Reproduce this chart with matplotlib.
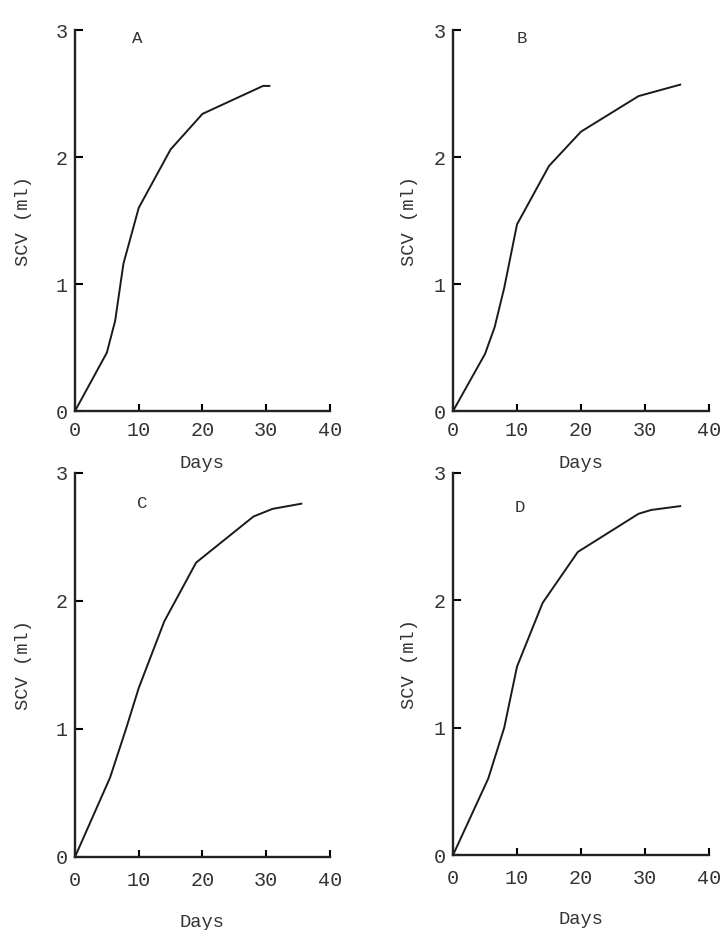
import matplotlib
matplotlib.use("Agg")
import matplotlib.pyplot as plt

# SCV (ml) vs days, four panels
days_a = [0, 5, 6.3, 7.6, 10, 15, 20, 29.5, 30.5]
scv_a = [0, 0.46, 0.71, 1.16, 1.6, 2.06, 2.34, 2.56, 2.56]

days_b = [0, 5, 6.5, 8, 10, 15, 20, 29, 35.5]
scv_b = [0, 0.45, 0.66, 0.97, 1.47, 1.93, 2.2, 2.48, 2.57]

days_c = [0, 5.5, 8, 10, 14, 19, 28, 31, 35.5]
scv_c = [0, 0.62, 1.0, 1.32, 1.84, 2.3, 2.66, 2.72, 2.76]

days_d = [0, 5.5, 8, 10, 14, 19.5, 29, 31, 35.5]
scv_d = [0, 0.6, 1.0, 1.48, 1.98, 2.38, 2.68, 2.71, 2.74]

panel_labels = ["A", "B", "C", "D"]
x_ticks = [0, 10, 20, 30, 40]
y_ticks = [0, 1, 2, 3]

plt.rcParams['font.family'] = ['Liberation Mono', 'DejaVu Sans Mono']
text_col = '#333333'

fig = plt.figure(figsize=(7.23, 9.30), dpi=100)

# axes boxes in figure fraction, plus label spot for each panel
boxes = [
    (0.1037, 0.558, 0.3527, 0.4097),
    (0.6266, 0.558, 0.3540, 0.4097),
    (0.1037, 0.0785, 0.3527, 0.4129),
    (0.6266, 0.0806, 0.3540, 0.4108),
]
label_pos = [(9.7, 2.93), (10.8, 2.93), (10.5, 2.76), (10.5, 2.73)]
series = [(days_a, scv_a), (days_b, scv_b), (days_c, scv_c), (days_d, scv_d)]

for i, (box, (x, y)) in enumerate(zip(boxes, series)):
    ax = fig.add_axes(box)
    ax.plot(x, y, color='#1a1a1a', lw=1.4, solid_joinstyle='round')
    ax.set_xlim(0, 40)
    ax.set_ylim(0, 3)
    ax.set_xticks(x_ticks)
    ax.set_yticks(y_ticks)
    for s in ['top', 'right']:
        ax.spines[s].set_visible(False)
    for s in ['left', 'bottom']:
        ax.spines[s].set_linewidth(1.7)
        ax.spines[s].set_color('#222222')
    top_row = i < 2
    ax.tick_params(axis='x', direction='in', length=5, width=1.5,
                   pad=7 if top_row else 10, labelsize=14.5, labelcolor=text_col)
    ax.tick_params(axis='y', direction='in', length=6, width=1.5,
                   pad=5, labelsize=14.5, labelcolor=text_col)
    ax.set_xlabel('Days', fontsize=13.5, color=text_col, va='center')
    ax.xaxis.set_label_coords(0.5, -0.137 if top_row else -0.17)
    ax.set_ylabel('SCV (ml)', fontsize=13.5, color=text_col, va='center')
    ax.yaxis.set_label_coords(-0.2 if i % 2 == 0 else -0.172, 0.5)
    ax.text(label_pos[i][0], label_pos[i][1], panel_labels[i], fontsize=12.5,
            color=text_col, ha='center', va='center')

fig.savefig('out.png', dpi=100)
